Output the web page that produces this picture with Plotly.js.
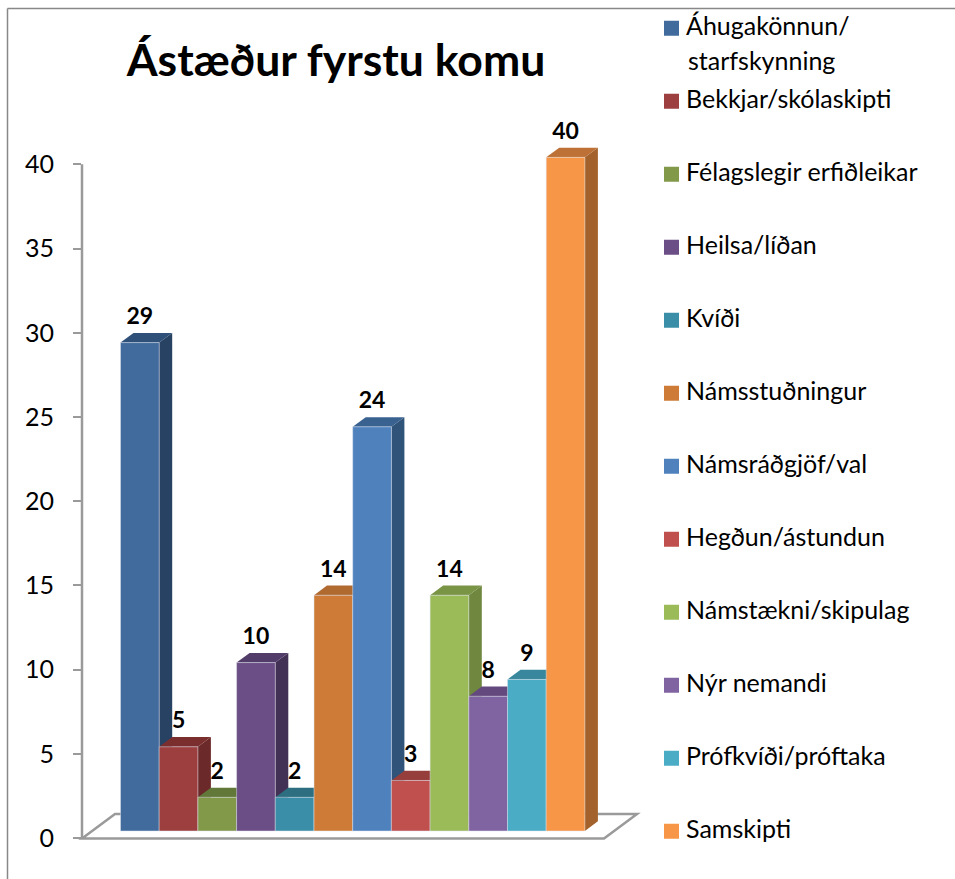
<!DOCTYPE html>
<html><head><meta charset="utf-8">
<script src="https://cdn.plot.ly/plotly-3.0.1.min.js"></script>
<style>html,body{margin:0;padding:0;background:#fff}#c{width:955px;height:879px}</style></head>
<body><div id="c"></div>
<script>
const categories=['Áhugakönnun/<br>starfskynning','Bekkjar/skólaskipti','Félagslegir erfiðleikar','Heilsa/líðan','Kvíði','Námsstuðningur','Námsráðgjöf/val','Hegðun/ástundun','Námstækni/skipulag','Nýr nemandi','Prófkvíði/próftaka','Samskipti'];
const values=[29,5,2,10,2,14,24,3,14,8,9,40];
const tickValues=[0,5,10,15,20,25,30,35,40];
const frontColors=['#416B9C','#9C3F3E','#82994A','#6B4E86','#3B8EA8','#CD7B37','#4F81BD','#C0504D','#9BBB59','#8064A2','#4BACC6','#F79646'];
const sideColors=['#274263','#6B2A29','#5E7034','#433155','#27627A','#9A5B28','#2F5379','#8A3836','#6F873F','#5C4776','#327F94','#A3622B'];
const topColors=['#2F5078','#7A2F2E','#627838','#523C69','#2D6F80','#B06A30','#3A6291','#963E3C','#7A9446','#64497E','#38879C','#BD7136'];
const PXX=38.7,PXY=16.85,L=82,R=640,B=838,TOPV=44;
const x0=-(139.85-L)/PXX, x1=x0+(R-L)/PXX;
const lift=7/PXY, dx=13/PXX, dy=9.7/PXY;
const idx=categories.map((_,i)=>i);
const traces=[];
idx.forEach(i=>{
  const v=values[i]+lift,a=i-0.5,b=i+0.5;
  traces.push({type:'scatter',mode:'lines',x:[b,b+dx,b+dx,b,b],y:[v,v+dy,lift+dy,lift,v],fill:'toself',fillcolor:sideColors[i],line:{width:0,color:sideColors[i]},showlegend:false,hoverinfo:'skip',cliponaxis:false});
  traces.push({type:'scatter',mode:'lines',x:[a,a+dx,b+dx,b,a],y:[v,v+dy,v+dy,v,v],fill:'toself',fillcolor:topColors[i],line:{width:0,color:topColors[i]},showlegend:false,hoverinfo:'skip',cliponaxis:false});
});
idx.forEach(i=>{
  traces.push({type:'bar',x:[i],y:[values[i]],width:1,xaxis:'x2',yaxis:'y2',name:categories[i].split('<br>')[0],legendgroup:'g'+i,
    marker:{color:frontColors[i],line:{width:0.7,color:'rgba(225,228,240,0.7)'}},hovertemplate:'%{y}<extra>'+categories[i].replace('<br>',' ')+'</extra>'});
});
traces.push({type:'scatter',mode:'text',x:idx,y:values.map(v=>v+dy+0.18),xaxis:'x2',yaxis:'y2',text:values.map(String),textposition:'top center',
  textfont:{family:'Lato',size:23,color:'#000',weight:700},showlegend:false,hoverinfo:'skip',cliponaxis:false});
// frame, axis line and floor in paper fractions so they are not clipped by the subplot
const px=p=>(p-L)/(R-L), py=p=>(B-p)/(TOPV*PXY);
const grey='#9a9a9a';
const shapes=[
 {type:'path',xref:'paper',yref:'paper',layer:'below',path:`M ${px(82)} ${py(838.5)} L ${px(115)} ${py(814)} L ${px(637)} ${py(814)} L ${px(604)} ${py(838.5)} Z`,line:{color:grey,width:2.5}},
 {type:'line',xref:'paper',yref:'paper',layer:'below',x0:0,x1:0,y0:py(838.5),y1:40/TOPV,line:{color:grey,width:2.5}},
 {type:'line',xref:'paper',yref:'paper',x0:px(7.5),x1:px(955),y0:py(8),y1:py(8),line:{color:'#888',width:1.5}},
 {type:'line',xref:'paper',yref:'paper',x0:px(7.5),x1:px(7.5),y0:py(8),y1:py(879),line:{color:'#888',width:1.5}}
];
const layout={width:955,height:879,paper_bgcolor:'#fff',plot_bgcolor:'rgba(0,0,0,0)',showlegend:true,barmode:'overlay',
 margin:{l:L,r:955-R,b:879-B,t:B-TOPV*PXY,pad:0},
 font:{family:'Lato',color:'#000'},
 title:{text:'<b>Ástæður fyrstu komu</b>',font:{family:'Lato',size:44.5,color:'#000'},xref:'container',yref:'container',x:336/955,xanchor:'center',y:1-60/879,yanchor:'middle'},
 xaxis:{range:[x0,x1],visible:false,fixedrange:true},
 yaxis:{range:[0,TOPV],tickvals:tickValues,ticks:'outside',ticklen:8,tickwidth:2,tickcolor:grey,showgrid:false,zeroline:false,showline:false,tickfont:{family:'Lato',size:25,color:'#000'},ticklabelstandoff:14,fixedrange:true},
 xaxis2:{range:[x0,x1],overlaying:'x',anchor:'y2',visible:false,fixedrange:true},
 yaxis2:{range:[-lift,TOPV-lift],overlaying:'y',anchor:'x2',visible:false,fixedrange:true},
 legend:{xref:'container',yref:'container',x:646/955,y:1-2.5/879,xanchor:'left',yanchor:'top',traceorder:'grouped',tracegroupgap:37.5,maxheight:875,font:{family:'Lato',size:25,color:'#000'},bgcolor:'rgba(0,0,0,0)',borderwidth:0},
 shapes:shapes,
 annotations:[{xref:'paper',yref:'paper',x:px(686),y:py(60),xanchor:'left',yanchor:'middle',showarrow:false,text:categories[0].split('<br>')[1],font:{family:'Lato',size:25,color:'#000'}}]
};
Plotly.newPlot('c',traces,layout,{displayModeBar:false,responsive:false}).then(gd=>{
  document.querySelectorAll('#c .legend .legendpoints path').forEach(p=>{
    p.setAttribute('d','M7.5,7.5H-7.5V-7.5H7.5Z');
    p.setAttribute('transform','translate(25.5,3)');
    p.style.strokeWidth='0';
  });
});
</script></body></html>
